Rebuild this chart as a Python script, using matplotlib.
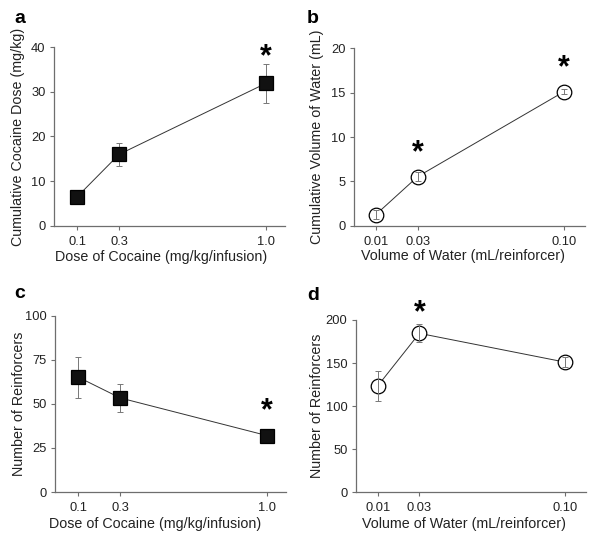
import numpy as np
import matplotlib
matplotlib.use("Agg")
import matplotlib.pyplot as plt

plt.rcParams['font.family'] = ['Liberation Sans', 'DejaVu Sans']

# cocaine panels (a, c)
cocaine_dose = [0.1, 0.3, 1.0]
cocaine_ticks = ["0.1", "0.3", "1.0"]
cum_cocaine = [6.5, 16.0, 31.9]
cum_cocaine_err = [0.4, 2.5, 4.4]
cocaine_reinf = [65.2, 53.4, 32.0]
cocaine_reinf_err = [11.7, 8.2, 4.0]

# water panels (b, d)
water_vol = [0.01, 0.03, 0.10]
water_ticks = ["0.01", "0.03", "0.10"]
cum_water = [1.28, 5.55, 15.1]
cum_water_err = [0.5, 0.5, 0.3]
water_reinf = [123.3, 184.5, 151.0]
water_reinf_err = [17.0, 10.5, 6.0]

# significance marks (x, y)
star_a = [(1.0, 37.8)]
star_b = [(0.03, 8.2), (0.10, 17.7)]
star_c = [(1.0, 46.0)]
star_d = [(0.03, 208.0)]

SPINE = "#6e6e6e"
W, H = 600, 547

fig = plt.figure(figsize=(6.0, 5.47), dpi=100)


def panel(rect, x, y, err, ticks, xlim, ylim, yticks, xlabel, ylabel,
          letter, letter_xy, xlab_pos, ylab_x, stars, marker, face):
    ax = fig.add_axes(rect)
    ax.plot(x, y, color="#333333", lw=0.7, zorder=1)
    # error bars sit under the filled squares but over the open circles
    ez = 1.5 if marker == "s" else 3
    ax.errorbar(x, y, yerr=err, fmt="none", ecolor="#777777", elinewidth=0.7,
                capsize=2.2, capthick=0.7, zorder=ez)
    ax.plot(x, y, ls="none", marker=marker, ms=10 if marker == "s" else 10.5,
            mfc=face, mec="black", mew=0.9, zorder=2)
    for sx, sy in stars:
        ax.text(sx, sy, "*", ha="center", va="center", fontsize=22,
                fontweight="bold", zorder=4)
    ax.set_xlim(*xlim)
    ax.set_ylim(*ylim)
    ax.set_xticks(x)
    ax.set_xticklabels(ticks)
    ax.set_yticks(yticks)
    for s in ["top", "right"]:
        ax.spines[s].set_visible(False)
    for s in ["left", "bottom"]:
        ax.spines[s].set_color(SPINE)
        ax.spines[s].set_linewidth(0.9)
    ax.tick_params(direction="out", length=3, width=0.8, color=SPINE,
                   labelsize=9.3, pad=3, labelcolor="#222222")
    ax.tick_params(axis="x", pad=4.5)
    ax.set_xlabel(xlabel, fontsize=10.3, color="#222222")
    ax.set_ylabel(ylabel, fontsize=10.3, color="#222222")
    ax.xaxis.set_label_coords(*xlab_pos)
    ax.yaxis.set_label_coords(ylab_x, 0.5)
    fig.text(letter_xy[0] / W, 1 - letter_xy[1] / H, letter,
             fontsize=14, fontweight="bold", ha="left", va="baseline")
    return ax


panel([0.09, 0.587, 0.385, 0.327], cocaine_dose, cum_cocaine, cum_cocaine_err,
      cocaine_ticks, (-0.01, 1.09), (0, 40), [0, 10, 20, 30, 40],
      "Dose of Cocaine (mg/kg/infusion)", "Cumulative Cocaine Dose (mg/kg)",
      "a", (14, 23), (0.463, -0.134), -0.126, star_a, "s", "#111111")

panel([0.59, 0.587, 0.385, 0.325], water_vol, cum_water, cum_water_err,
      water_ticks, (-0.0005, 0.1101), (0, 20), [0, 5, 10, 15, 20],
      "Volume of Water (mL/reinforcer)", "Cumulative Volume of Water (mL)",
      "b", (307, 23), (0.474, -0.128), -0.13, star_b, "o", "white")

panel([0.092, 0.1005, 0.385, 0.322], cocaine_dose, cocaine_reinf, cocaine_reinf_err,
      cocaine_ticks, (-0.01, 1.09), (0, 100), [0, 25, 50, 75, 100],
      "Dose of Cocaine (mg/kg/infusion)", "Number of Reinforcers",
      "c", (14, 298), (0.433, -0.142), -0.128, star_c, "s", "#111111")

panel([0.593, 0.1005, 0.384, 0.3145], water_vol, water_reinf, water_reinf_err,
      water_ticks, (-0.0005, 0.1101), (0, 200), [0, 50, 100, 150, 200],
      "Volume of Water (mL/reinforcer)", "Number of Reinforcers",
      "d", (307, 300), (0.469, -0.145), -0.139, star_d, "o", "white")

fig.savefig("out.png", dpi=100, facecolor="white")
